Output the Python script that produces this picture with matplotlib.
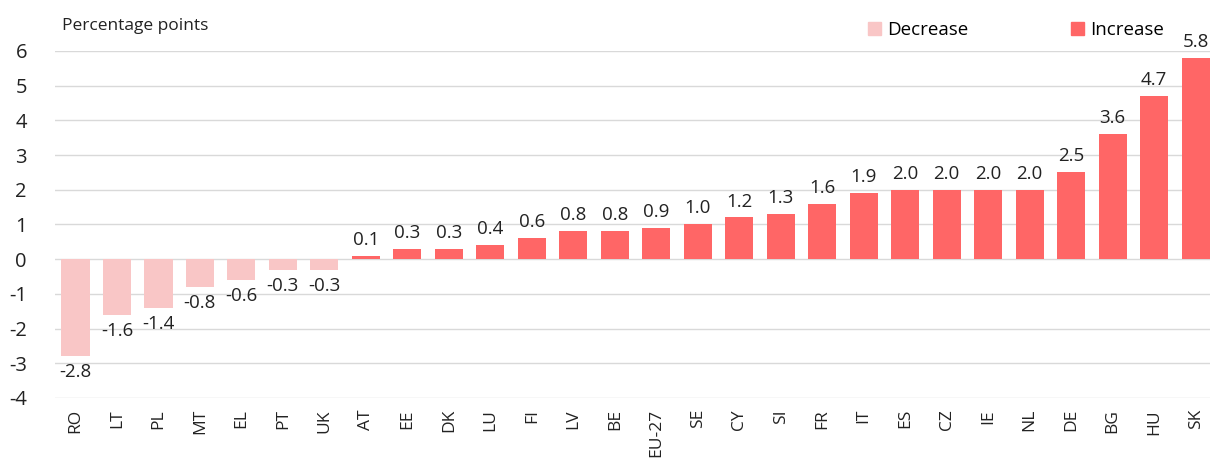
import matplotlib.pyplot as plt
from matplotlib.patches import Patch

plt.rcParams['font.family'] = ['Open Sans', 'DejaVu Sans']

countries = ['RO', 'LT', 'PL', 'MT', 'EL', 'PT', 'UK', 'AT', 'EE', 'DK', 'LU', 'FI', 'LV', 'BE',
             'EU-27', 'SE', 'CY', 'SI', 'FR', 'IT', 'ES', 'CZ', 'IE', 'NL', 'DE', 'BG', 'HU', 'SK']
values = [-2.8, -1.6, -1.4, -0.8, -0.6, -0.3, -0.3, 0.1, 0.3, 0.3, 0.4, 0.6, 0.8, 0.8,
          0.9, 1.0, 1.2, 1.3, 1.6, 1.9, 2.0, 2.0, 2.0, 2.0, 2.5, 3.6, 4.7, 5.8]
yticks = [-4, -3, -2, -1, 0, 1, 2, 3, 4, 5, 6]

col_inc = '#ff6666'
col_dec = '#f9c6c6'

fig = plt.figure(figsize=(12.15, 4.71), dpi=100)
ax = fig.add_axes([0.045, 0.155, 0.951, 0.737])

x = list(range(len(countries)))
colors = [col_dec if v < 0 else col_inc for v in values]
ax.bar(x, values, width=0.68, color=colors, zorder=2)

for xi, v in zip(x, values):
    if v < 0:
        ax.text(xi, v - 0.2, '%.1f' % v, ha='center', va='top', fontsize=13.5, color='#222222')
    else:
        ax.text(xi, v + 0.2, '%.1f' % v, ha='center', va='bottom', fontsize=13.5, color='#222222')

ax.set_xlim(-0.5, 27.35)
ax.set_ylim(-4, 6)
ax.set_yticks(yticks)
ax.set_yticklabels([str(t) for t in yticks], fontsize=14.5, color='#222222')
ax.set_xticks(x)
ax.set_xticklabels(countries, rotation=90, fontsize=12.5, color='#222222')
ax.tick_params(axis='both', length=0)
ax.tick_params(axis='y', pad=20)
ax.tick_params(axis='x', pad=8)
ax.grid(axis='y', color='#d9d9d9', lw=1, zorder=0)
for s in ax.spines.values():
    s.set_visible(False)

fig.text(0.051, 0.945, 'Percentage points', fontsize=12.5, color='#222222', va='center')

handles = [Patch(color=col_dec, label='Decrease'), Patch(color=col_inc, label='Increase')]
ax.legend(handles=handles, ncol=2, loc='center', bbox_to_anchor=(0.832, 1.06), frameon=False,
          fontsize=13.5, handlelength=0.7, handleheight=0.7, handletextpad=0.3, columnspacing=5.5)

fig.savefig('out.png', dpi=100)
